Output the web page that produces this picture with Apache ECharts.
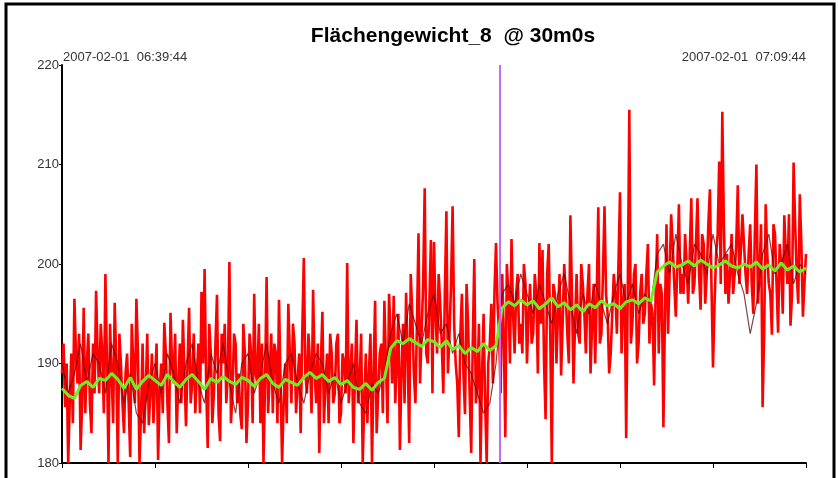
<!DOCTYPE html>
<html>
<head>
<meta charset="utf-8">
<script src="https://cdn.jsdelivr.net/npm/echarts@6/dist/echarts.min.js"></script>
<style>
html,body{margin:0;padding:0;background:#fff;}
#c{width:838px;height:478px;}
</style>
</head>
<body>
<div id="c"></div>
<script>
// ---- data ----
var titleText = 'Flächengewicht_8  @ 30m0s';
var startLabel = '2007-02-01  06:39:44';
var endLabel = '2007-02-01  07:09:44';
var yTicks = [180, 190, 200, 210, 220];
var durationSec = 1800;
var rawStep = 3.75;   // seconds between raw samples
var avgStep = 15;     // seconds between smoothed samples
var cursorSec = 1060; // magenta cursor position

// raw samples at even positions (every 7.5 s)
var rawEven = [
189,185.6,180,191,196.5,188,181.3,195.6,190,186,192,197.3,187,191,199,180,189,196.1,180,190,
183,191,180.6,190,196.5,180,192,187,183.8,191,188,180.3,190,194.1,186,195.1,188,183,192,194.4,
183.7,195.6,188,185,192,197.2,199.5,181.5,191,187,196.9,182.2,190,186,200.2,187,192,189,183.4,191,
186,191,197,188,184,180,198.7,189,185,191,196.4,180,190,196,186,192,188,183,200.6,187,
190,197.4,186,181,195.2,188,184,191,187,193,185,190,200.1,186,182,194.4,188,180,191,189,
180,196.3,187,192,196.3,184,193,196.8,190,181.3,194,197.1,182,195,186,203.1,193,207.6,190,202.4,
202.2,191,196,187,205.3,193,205.8,190,182.6,197,184.9,194,181,200.5,188,180,195,180,192,188,
202.1,193,199,182.6,197,202.5,191,199,194,200,190,198,193,197,202.1,201.4,184.4,202,180,197,
195,188.8,200,193,204.9,188,199,192,198,191,200,194,190,205.7,193,205.8,195,191,199,193,
207.2,196,182.5,215.5,194,200,192,199,195,202,196,187.8,203,198,183.6,204,199,202,194.7,206,
199,203,196,206.6,198,206.6,195.4,202,199,207.5,189.6,201,210.3,215.3,197,196,203,199,207.9,198,
202,197,204,195,210,199,185.6,206,198,192.9,203,193.1,200,204.9,198,193.8,210.2,199,207,194.7,201
];
// raw samples at odd positions (between the even ones)
var rawOdd = [
192,190,186,184,191,193,186,185,193,183,187,191,194,185,190,194,184,190,193,186,
189,186,194,186,191,185,183,193,187,184,192,187,185,191,182,190,193,188,186,189,
190,186,193,189,185,190,188,194,184,192,185,193,194,189,184,193,186,185,194,182,
193,184,189,194,192,188,185,193,192,184,188,186,184,191,194,185,191,193,189,193,
185,189,192,190,184,191,193,186,192,184,191,187,186,192,189,186,193,186,184,193,
189,183,191,185,190,197,188,186,195,189,186,191,199,189,194,188,198,191,196,187,
195,199,192,197,189,198,194,188,193,189,198,187,192,186,194,189,186,190,196,197,
196,187,193,200,190,195,197,192,191,198,195,192,199,189,194,190,199,193,198,190,
199,194,197,190,197,194,193,200,195,197,189,198,197,192,199,197,189,195,197,200,
191,198,197,192,199,190,197,194,199,192,195,197,191,197,195,193,205,198,200,197,
197,200,201,197,202,199,203,196,204,198,196,203,198,204,201,199,197,202,198,205,
199,201,198,203,196,204,193,201,197,204,198,202,195,201,205,197,204,196,202,198
];

var darkValues = [
190,187,189,192,188,191,190,187,192,190,186,189,185,184,188,190,187,191,189,186,
190,192,188,186,191,189,192,188,185,190,191,187,189,192,188,186,190,191,188,186,
189,191,190,187,189,186,188,190,186,185,188,187,189,
193,195,192,196,194,192,195,197,193,194,191,193,190,189,187,185,186,190,
197,198,196,199,197,195,198,196,194,197,199,196,193,197,195,198,196,194,197,199,196,198,195,197,196,
201,202,199,203,200,198,202,201,199,203,200,201,202,199,197,193,196,201,203,199,200,202,198,200,199
];

var avgValues = [
187.5,186.8,186.5,187.8,188.2,187.6,188.5,188.3,189,188.4,
187.5,188.6,187.4,188.2,188.8,188.3,187.8,188.9,188.2,187.6,
188.4,188.9,188.2,187.4,188.5,188.1,188.7,188.2,187.9,188.6,
188.3,187.7,188.5,188.9,188.0,187.6,188.4,188.1,187.8,188.6,
189.1,188.5,188.9,188.2,188.6,187.9,188.3,187.6,187.4,188.0,
187.3,188.1,188.5,
191.5,192.3,192.0,192.5,192.1,191.7,192.4,192.2,191.6,192.3,191.4,191.8,191.0,191.6,191.2,192.0,191.3,191.8,
195.6,196.2,195.8,196.4,195.9,196.3,195.5,196.0,196.6,195.7,196.1,195.4,195.9,195.2,196.0,195.6,196.3,195.8,196.0,195.5,196.2,196.4,196.0,196.6,196.3,
199.2,199.8,200.2,199.7,199.9,200.3,199.8,200.4,200.0,199.6,199.9,200.3,199.8,199.6,200.0,199.7,200.2,199.5,199.9,199.3,200.1,199.4,199.8,199.2,199.6
];

var rawValues = [];
for (var k = 0; k < rawEven.length; k++) {
  rawValues.push(rawEven[k]);
  if (k < rawOdd.length) rawValues.push(rawOdd[k]);
}

function pairs(vals, step){ return vals.map(function(v,i){ return [i*step, v]; }); }

var chart = echarts.init(document.getElementById('c'), null, {renderer:'canvas'});
var font = '"Liberation Sans", Arial, sans-serif';
chart.setOption({
  animation:false,
  backgroundColor:'#ffffff',
  title:{
    text:titleText, left:448, top:21, textAlign:'center',
    textStyle:{fontFamily:font, fontSize:21, fontWeight:'bold', color:'#000'}
  },
  grid:{left:62, right:32, top:65, bottom:15, containLabel:false},
  xAxis:{
    type:'value', min:0, max:durationSec, interval:225,
    axisLine:{show:true, onZero:false, lineStyle:{color:'#000', width:2}},
    axisTick:{show:true, length:5, lineStyle:{color:'#000', width:1}},
    axisLabel:{show:false},
    splitLine:{show:false}
  },
  yAxis:{
    type:'value', min:yTicks[0], max:yTicks[yTicks.length-1], interval:10,
    axisLine:{show:true, lineStyle:{color:'#000', width:2}},
    axisTick:{show:true, length:3, lineStyle:{color:'#000'}},
    axisLabel:{show:true, margin:3, fontFamily:font, fontSize:13, color:'#333'},
    splitLine:{show:false}
  },
  graphic:[
    {type:'rect', shape:{x:6, y:4, width:828, height:490}, style:{fill:null, stroke:'#000', lineWidth:3}, silent:true, z:100},
    {type:'text', left:63, top:51, style:{text:startLabel, font:'13px "Liberation Sans", Arial, sans-serif', fill:'#333'}},
    {type:'text', right:32, top:51, style:{text:endLabel, font:'13px "Liberation Sans", Arial, sans-serif', fill:'#333'}}
  ],
  series:[
    {type:'line', data:pairs(rawValues, rawStep), showSymbol:false, lineStyle:{color:'#ff0000', width:2.6}, z:2,
     markLine:{silent:true, symbol:'none', label:{show:false}, lineStyle:{color:'#c46cf4', width:2, type:'solid'}, data:[{xAxis:cursorSec}]}},
    {type:'line', data:pairs(darkValues, avgStep), showSymbol:false, lineStyle:{color:'#600000', width:1.2, opacity:0.75}, z:3},
    {type:'line', data:pairs(avgValues, avgStep), showSymbol:false, lineStyle:{color:'#6cf020', width:3}, z:4}
  ]
});
</script>
</body>
</html>
